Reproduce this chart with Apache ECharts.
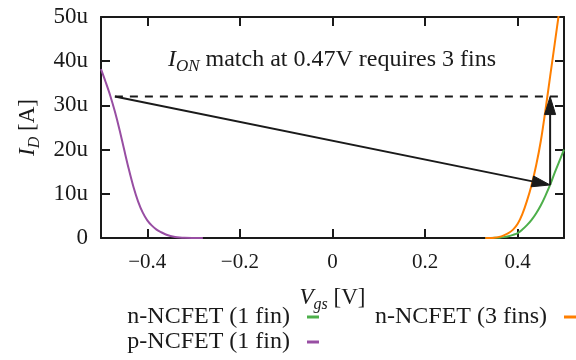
<!DOCTYPE html>
<html>
<head>
<meta charset="utf-8">
<script src="https://cdn.jsdelivr.net/npm/echarts@6/dist/echarts.min.js"></script>
<style>html,body{margin:0;padding:0;background:#fff}#c{width:576px;height:360px}</style>
</head>
<body>
<div id="c"></div>
<script>
// ---- data (currents in uA) ----
const pX = [-0.50,-0.49,-0.48,-0.47,-0.46,-0.45,-0.44,-0.43,-0.42,-0.41,-0.40,-0.39,-0.38,-0.37,-0.36,-0.35,-0.34,-0.33,-0.32,-0.30,-0.28];
const pY = [38.2,35.3,32.2,28.6,24.5,20.0,15.6,11.6,8.3,5.8,4.0,2.8,1.9,1.3,0.8,0.45,0.22,0.1,0.04,0.01,0];
const gX = [0.33,0.34,0.35,0.36,0.37,0.38,0.39,0.40,0.41,0.42,0.43,0.44,0.45,0.46,0.47,0.48,0.49,0.50];
const gY = [0,0.01,0.03,0.08,0.2,0.4,0.7,1.1,1.9,2.9,4.1,5.6,7.4,9.6,12.0,14.8,17.4,20.0];
const oX = [0.33,0.34,0.35,0.36,0.37,0.38,0.39,0.40,0.41,0.42,0.43,0.44,0.45,0.46,0.47,0.48,0.49,0.50];
const oY = [0,0.02,0.08,0.25,0.6,1.1,1.9,3.2,5.4,8.4,12.0,16.5,22.0,29.0,36.5,44.0,51.5,59];
const refX = [-0.47, 0.5];
const refY = [32, 32];
const arrows = [[-0.47, 32, 0.47, 12], [0.47, 12, 0.47, 32]];
const xTicks = [-0.4, -0.2, 0, 0.2, 0.4];
const names = ['n-NCFET (1 fin)', 'n-NCFET (3 fins)', 'p-NCFET (1 fin)'];
const colors = ['#4daf4a', '#ff7f00', '#984ea3'];

const zip = (xs, ys) => xs.map((x, i) => [x, ys[i]]);
const F = 'Liberation Serif';
const INK = '#1a1a1a';

const chart = echarts.init(document.getElementById('c'), null, {renderer: 'canvas'});

const subRich = (size) => ({
  it: {fontFamily: F, fontStyle: 'italic', fontWeight: 'normal', fontSize: size, lineHeight: 30, color: INK, verticalAlign: 'middle'},
  sub: {fontFamily: F, fontStyle: 'italic', fontWeight: 'normal', fontSize: Math.round(size * 0.7), lineHeight: 15, color: INK, verticalAlign: 'bottom'},
  n: {fontFamily: F, fontWeight: 'normal', fontSize: size, lineHeight: 30, color: INK, verticalAlign: 'middle'}
});

const frameAxis = {
  axisLine: {show: true, onZero: false, lineStyle: {color: INK, width: 2}},
  axisTick: {show: true, inside: true, length: 9, lineStyle: {color: INK, width: 2}},
  splitLine: {show: false}
};

function fmtX(v) {
  if (Math.abs(v) < 1e-9) return '0';
  return (v < 0 ? '\u2212' : '') + Math.abs(v).toFixed(1);
}

const legendBase = {
  orient: 'horizontal', align: 'right', padding: 0, itemWidth: 12, itemHeight: 3, icon: 'rect',
  textStyle: {fontFamily: F, fontSize: 24, color: INK, padding: [0, 12, 0, 0]},
  selectedMode: false
};

chart.setOption({
  animation: false,
  backgroundColor: '#fff',
  grid: {left: 101, right: 12, top: 17, bottom: 122, containLabel: false},
  title: {
    text: '{it|I}{sub|ON}{n| match at 0.47V requires 3 fins}',
    left: 332, top: 45, padding: 0, textAlign: 'center',
    textStyle: {fontWeight: 'normal', rich: subRich(24)}
  },
  legend: [
    Object.assign({}, legendBase, {data: [names[0]], right: 257, top: 305}),
    Object.assign({}, legendBase, {data: [names[1]], right: 0, top: 305}),
    Object.assign({}, legendBase, {data: [names[2]], right: 257, top: 330})
  ],
  xAxis: [
    Object.assign({}, frameAxis, {
      type: 'value', min: -0.5, max: 0.5, position: 'bottom',
      axisTick: Object.assign({}, frameAxis.axisTick, {customValues: xTicks}),
      axisLabel: {customValues: xTicks, formatter: fmtX, fontFamily: F, fontSize: 21, color: INK, margin: 14},
      name: '{it|V}{sub|gs}{n| [V]}', nameLocation: 'middle', nameGap: 45,
      nameTextStyle: {rich: subRich(23)}
    }),
    Object.assign({}, frameAxis, {
      type: 'value', min: -0.5, max: 0.5, position: 'top',
      axisTick: Object.assign({}, frameAxis.axisTick, {customValues: xTicks}),
      axisLabel: {show: false}
    })
  ],
  yAxis: [
    Object.assign({}, frameAxis, {
      type: 'value', min: 0, max: 50, interval: 10, position: 'left',
      axisLabel: {formatter: v => v === 0 ? '0' : v + 'u', fontFamily: F, fontSize: 23, color: INK, margin: 13},
      name: '{it|I}{sub|D}{n| [A]}', nameLocation: 'middle', nameGap: 58, nameRotate: 90,
      nameTextStyle: {rich: subRich(23)}
    }),
    Object.assign({}, frameAxis, {
      type: 'value', min: 0, max: 50, interval: 10, position: 'right',
      axisLabel: {show: false}
    })
  ],
  series: [
    {name: names[0], type: 'line', data: zip(gX, gY), showSymbol: false, smooth: 0.35,
     color: colors[0], lineStyle: {width: 2, color: colors[0]}, z: 3},
    {name: names[1], type: 'line', data: zip(oX, oY), showSymbol: false, smooth: 0.35,
     color: colors[1], lineStyle: {width: 2, color: colors[1]}, z: 3},
    {name: names[2], type: 'line', data: zip(pX, pY), showSymbol: false, smooth: 0.35,
     color: colors[2], lineStyle: {width: 2, color: colors[2]}, z: 3},
    {name: 'ref', type: 'line', data: zip(refX, refY), showSymbol: false, silent: true,
     lineStyle: {width: 2, color: INK, type: [8, 7]}, z: 4},
    {name: 'arrows', type: 'custom', data: arrows, encode: {x: [0, 2], y: [1, 3]}, z: 5, silent: true,
     renderItem: function (params, api) {
       const a = api.coord([api.value(0), api.value(1)]);
       const b = api.coord([api.value(2), api.value(3)]);
       const dx = b[0] - a[0], dy = b[1] - a[1];
       const L = Math.sqrt(dx * dx + dy * dy);
       const ux = dx / L, uy = dy / L;
       const hl = 18, hw = 5.5;
       const bx = b[0] - ux * hl, by = b[1] - uy * hl;
       return {
         type: 'group',
         children: [
           {type: 'line', shape: {x1: a[0], y1: a[1], x2: bx, y2: by}, style: {stroke: INK, lineWidth: 2}},
           {type: 'polygon', shape: {points: [[b[0], b[1]], [bx - uy * hw, by + ux * hw], [bx + uy * hw, by - ux * hw]]},
            style: {fill: INK, stroke: INK, lineWidth: 1}}
         ]
       };
     }}
  ]
});
</script>
</body>
</html>
